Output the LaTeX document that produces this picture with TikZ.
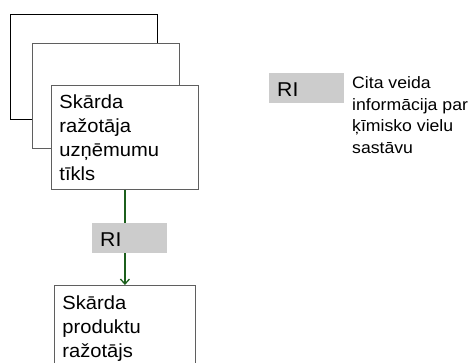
\documentclass[tikz,border=0pt]{standalone}
\usepackage{fontspec}
\setmainfont{Liberation Sans}[FakeStretch=1.06]
\newfontfamily\legendfont{Liberation Sans}[FakeStretch=1.07]
\usetikzlibrary{arrows.meta}
\definecolor{framegray}{RGB}{95,95,95}
\definecolor{tagfill}{RGB}{204,204,204}
\definecolor{flowgreen}{RGB}{28,95,28}
\tikzset{
  x=1pt, y=-1pt,
  sheet/.style={draw=framegray, fill=white, line width=0.9pt, anchor=north west,
    minimum width=147pt, minimum height=105pt, inner sep=0pt},
  box/.style={draw=framegray, fill=white, line width=0.9pt, anchor=north west,
    inner xsep=8pt, inner ysep=0pt, align=left,
    font=\fontsize{19}{24.1}\selectfont},
  tag/.style={fill=tagfill, anchor=north west, minimum width=75pt, minimum height=30.5pt,
    inner xsep=8pt, inner ysep=0pt, text width=59pt, align=left,
    text height=18pt, text depth=0pt, font=\fontsize{20}{24}\selectfont},
  flow/.style={draw=flowgreen, line width=1.3pt,
    -{Straight Barb[length=5pt, width=9pt, line width=1.3pt]}},
  note/.style={anchor=north west, inner sep=0pt, align=left,
    font=\legendfont\fontsize{16.5}{21.5}\selectfont}
}
\begin{document}
\begin{tikzpicture}
  \useasboundingbox (0,0) rectangle (474,362);
  % stacked sheets of the company network
  \node[sheet, draw=black] (sheetA) at (10,14) {};
  \node[sheet] (sheetB) at (32,43) {};
  \node[box, text width=131pt, minimum height=104pt] (net) at (51,85)
    {Skārda\\ražotāja\\uzņēmumu\\tīkls};
  % producer
  \node[box, text width=125pt, minimum height=86pt] (prod) at (54,285)
    {Skārda\\produktu\\ražotājs};
  % information flow
  \draw[flow] (net.south) -- (prod.north);
  \node[tag] (ri) at (92,222.5) {RI};
  % legend
  \node[tag] (riKey) at (269,72.5) {RI};
  \node[note] (riText) at (352,76.5)
    {Cita veida\\informācija par\\ķīmisko vielu\\sastāvu};
\end{tikzpicture}
\end{document}
